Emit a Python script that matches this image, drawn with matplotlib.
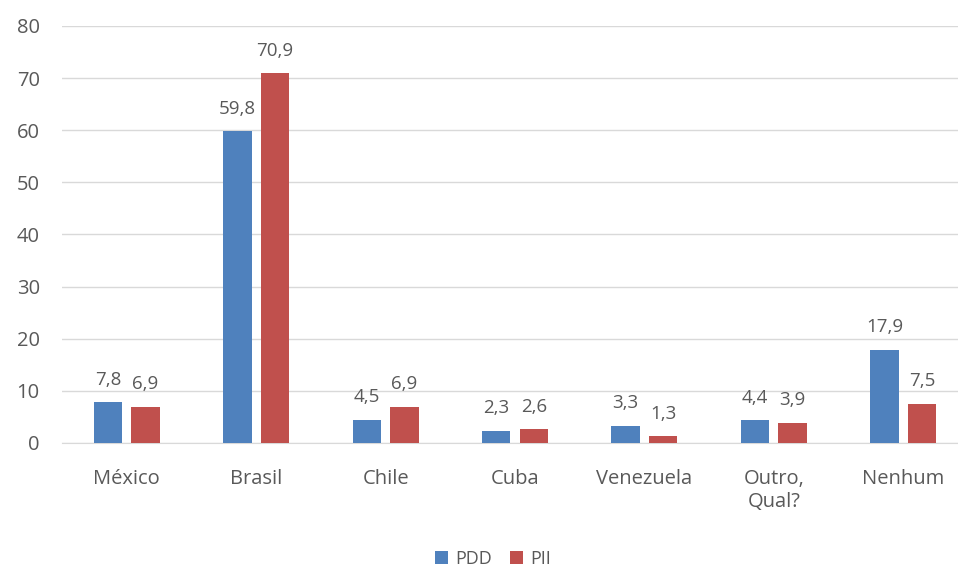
import matplotlib
matplotlib.use("Agg")
import matplotlib.pyplot as plt
import numpy as np

categories = ["México", "Brasil", "Chile", "Cuba", "Venezuela", "Outro,\nQual?", "Nenhum"]
pdd = [7.8, 59.8, 4.5, 2.3, 3.3, 4.4, 17.9]
pii = [6.9, 70.9, 6.9, 2.6, 1.3, 3.9, 7.5]
pdd_labels = ["7,8", "59,8", "4,5", "2,3", "3,3", "4,4", "17,9"]
pii_labels = ["6,9", "70,9", "6,9", "2,6", "1,3", "3,9", "7,5"]

plt.rcParams['font.family'] = ['Open Sans', 'DejaVu Sans']
text_color = "#595959"
blue = "#4F81BD"
red = "#C0504D"

fig = plt.figure(figsize=(9.58, 5.69), dpi=100)
left = 62 / 958
right = 968 / 958
ax = fig.add_axes([left, (569 - 443) / 569, right - left, (443 - 26) / 569])

x = np.arange(len(categories))
w = 0.22
off = 0.145
b1 = ax.bar(x - off, pdd, w, color=blue, label="PDD", zorder=3)
b2 = ax.bar(x + off, pii, w, color=red, label="PII", zorder=3)

for rect, lab in zip(b1, pdd_labels):
    ax.text(rect.get_x() + rect.get_width() / 2, rect.get_height() + 2.6, lab,
            ha="center", va="bottom", fontsize=13.5, color=text_color)
for rect, lab in zip(b2, pii_labels):
    ax.text(rect.get_x() + rect.get_width() / 2, rect.get_height() + 2.6, lab,
            ha="center", va="bottom", fontsize=13.5, color=text_color)

ax.set_xlim(-0.5, len(categories) - 0.5)
ax.set_ylim(0, 80)
ax.set_yticks(range(0, 81, 10))
ax.set_xticks(x)
ax.set_xticklabels(categories)
ax.tick_params(axis="both", length=0, labelsize=14.5, colors=text_color)
ax.tick_params(axis="x", pad=19)
ax.tick_params(axis="y", pad=16)
ax.grid(axis="y", color="#D9D9D9", linewidth=1, zorder=0)
for s in ["top", "right", "left"]:
    ax.spines[s].set_visible(False)
ax.spines["bottom"].set_color("#D9D9D9")

fig.legend(handles=[b1, b2], labels=["PDD", "PII"], loc="center",
           bbox_to_anchor=(493 / 958, 1 - 559 / 569), ncol=2, frameon=False,
           fontsize=13, labelcolor=text_color, handlelength=0.7, handleheight=0.7,
           handletextpad=0.4, columnspacing=1.0)

fig.savefig("out.png", dpi=100)
